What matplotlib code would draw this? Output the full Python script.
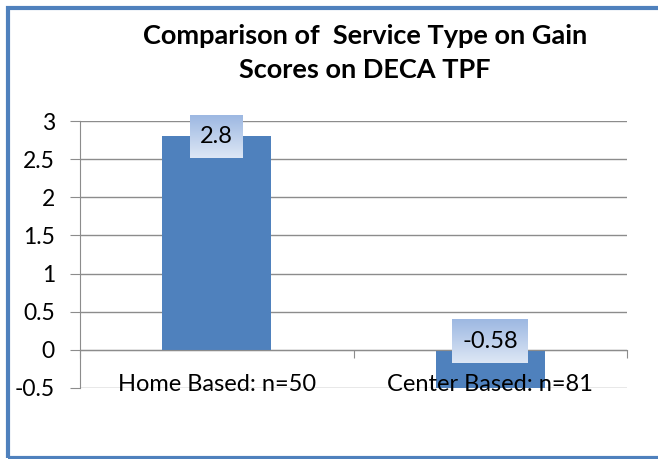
import numpy as np
import matplotlib.pyplot as plt
from matplotlib.patches import Rectangle

categories = ['Home Based: n=50', 'Center Based: n=81']
gain_scores = [2.8, -0.58]
label_y = [2.8, 0.11]   # where Excel put the data labels
title = 'Comparison of  Service Type on Gain\nScores on DECA TPF'

bar_color = '#4f81bd'
grid_color = '#8c8c8c'
plt.rcParams['font.family'] = ['Lato', 'DejaVu Sans']

fig = plt.figure(figsize=(6.58, 4.59), dpi=100)
ax = fig.add_axes([80/658, 1 - 388/459, 547/658, 267/459])

x = np.arange(len(categories))
ax.bar(x, gain_scores, width=0.4, color=bar_color, zorder=2)

ax.set_xlim(-0.5, len(categories) - 0.5)
ax.set_ylim(-0.5, 3)
ax.set_yticks(np.arange(-0.5, 3.01, 0.5))
ax.set_yticklabels(['-0.5', '0', '0.5', '1', '1.5', '2', '2.5', '3'])
ax.yaxis.grid(True, color=grid_color, lw=1)
ax.set_axisbelow(True)
ax.tick_params(axis='y', length=7, color=grid_color, labelsize=16.5, pad=11)

# category axis crosses at zero, ticks between categories
ax.spines['bottom'].set_position(('data', 0))
ax.spines['bottom'].set_color(grid_color)
ax.spines['left'].set_color(grid_color)
ax.spines['top'].set_visible(False)
ax.spines['right'].set_visible(False)
ax.set_xticks(np.arange(-0.5, len(categories), 1.0))
ax.set_xticklabels([])
ax.tick_params(axis='x', length=6, color=grid_color, direction='out')

for xi, name in zip(x, categories):
    ax.text(xi, -0.46, name, ha='center', va='center', fontsize=17, zorder=4)

# data labels with a light gradient box
grad = np.linspace(0, 1, 64).reshape(-1, 1)
cmap = plt.matplotlib.colors.LinearSegmentedColormap.from_list('lbl', ['#dde7f5', '#9db8e2'])
fig.canvas.draw()
renderer = fig.canvas.get_renderer()
inv = ax.transData.inverted()
for xi, v, ly in zip(x, gain_scores, label_y):
    t = ax.text(xi, ly, f'{v:g}', ha='center', va='center', fontsize=17, zorder=5)
    bb = t.get_window_extent(renderer)
    (x0, y0), (x1, y1) = inv.transform([[bb.x0 - 10, bb.y0 - 11], [bb.x1 + 10, bb.y1 + 11]])
    ax.imshow(grad, extent=[x0, x1, y0, y1], cmap=cmap, aspect='auto', zorder=4,
              origin='lower', clip_on=False)
ax.set_xlim(-0.5, len(categories) - 0.5)
ax.set_ylim(-0.5, 3)

fig.text(365/658, 1 - 53/459, title, ha='center', va='center', fontsize=19.5,
         fontweight='bold', linespacing=1.45)

fig.add_artist(Rectangle((7.5/658, 1.5/459), 1.0, 450/459, transform=fig.transFigure,
                         fill=False, edgecolor='#4f81bd', lw=3, clip_on=False))

fig.savefig('out.png', dpi=100)
